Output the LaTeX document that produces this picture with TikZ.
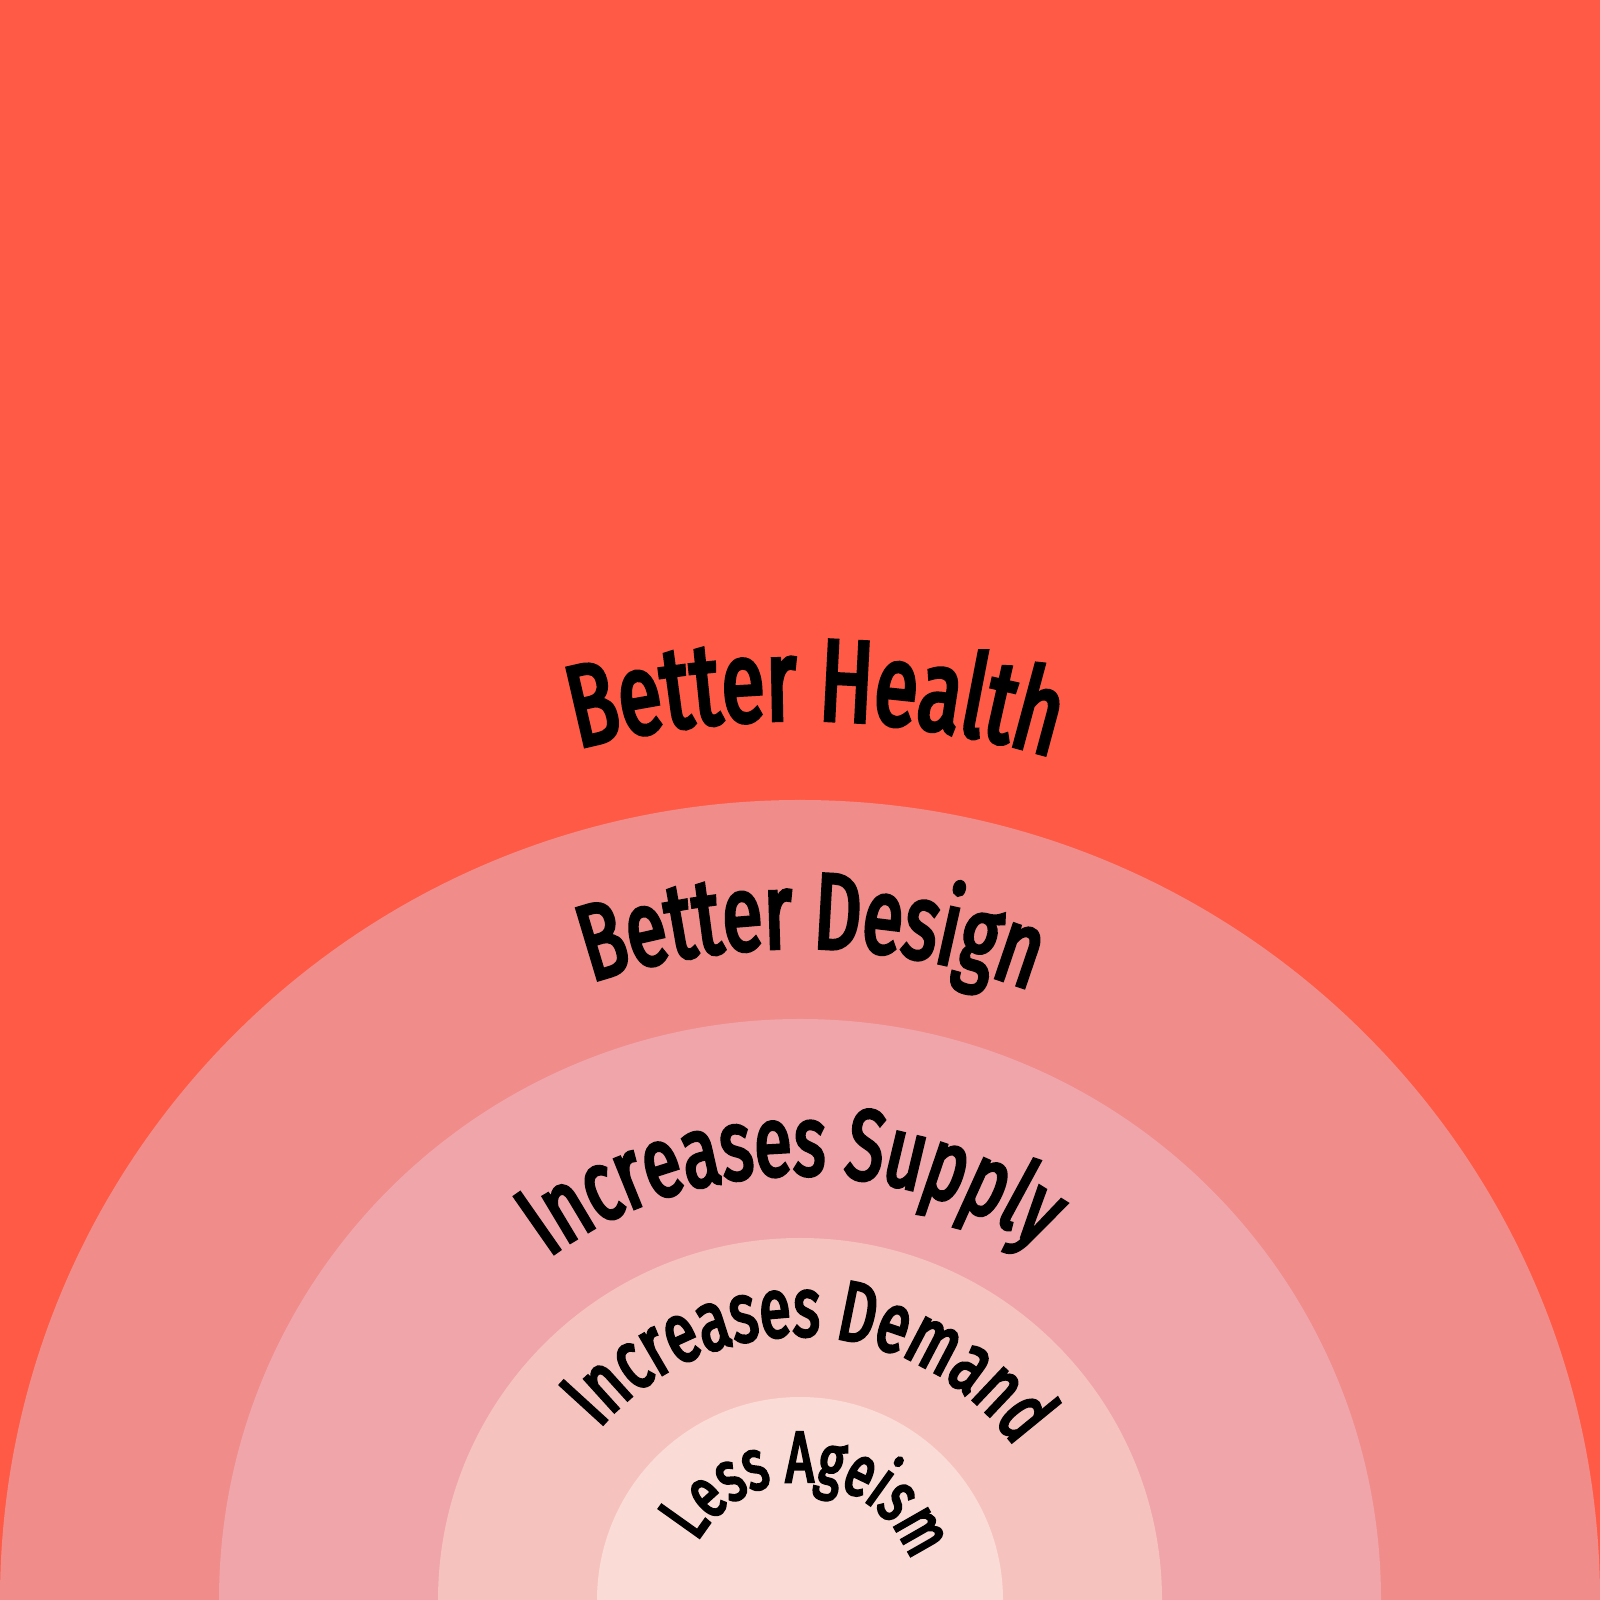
\documentclass[tikz,border=0pt]{standalone}
\usepackage{fontspec}
\usetikzlibrary{decorations.text}
\newfontfamily\ringfont{Fira Sans}[FakeStretch=0.68,FakeBold=3.5]
\newcommand\ringsize[1]{\ringfont\fontsize{#1}{#1}\selectfont}
\definecolor{bgred}{HTML}{FF5A45}
\definecolor{ringone}{HTML}{F08C89}
\definecolor{ringtwo}{HTML}{F0A5AB}
\definecolor{ringthree}{HTML}{F6C2BE}
\definecolor{ringfour}{HTML}{FADBD6}
\tikzset{ring/.style={fill=#1},
         curved/.style={decorate,decoration={text along path,text align=center}},
        }

\begin{document}
\begin{tikzpicture}
        \useasboundingbox (0,0) rectangle (16,16);
        \clip (0,0) rectangle (16,16);
        \fill[bgred] (0,0) rectangle (16,16);
        \coordinate (c) at (8,0);

        % rings
        \fill[ring=ringone](c) circle (8);
        \fill[ring=ringtwo](c) circle (5.81);
        \fill[ring=ringthree](c) circle (3.62);
        \fill[ring=ringfour](c) circle (2.03);

        % labels
        \path[curved,decoration={text={|\ringsize{33}|Better Health}}]
            (c) ++(174:8.8) arc[start angle=174,end angle=4,radius=8.8];
        \path[curved,decoration={text={|\ringsize{30.6}|Better Design}}]
            (c) ++(174:6.52) arc[start angle=174,end angle=4,radius=6.52];
        \path[curved,decoration={text={|\ringsize{28.5}|Increases Supply}}]
            (c) ++(176:4.25) arc[start angle=176,end angle=6,radius=4.25];
        \path[curved,decoration={text={|\ringsize{24}|Increases Demand}}]
            (c) ++(172.5:2.64) arc[start angle=172.5,end angle=2.5,radius=2.64];
        \path[curved,decoration={text={|\ringsize{20.6}|Less Ageism}}]
            (c) ++(171:1.18) arc[start angle=171,end angle=-1,radius=1.18];
\end{tikzpicture}
\end{document}
